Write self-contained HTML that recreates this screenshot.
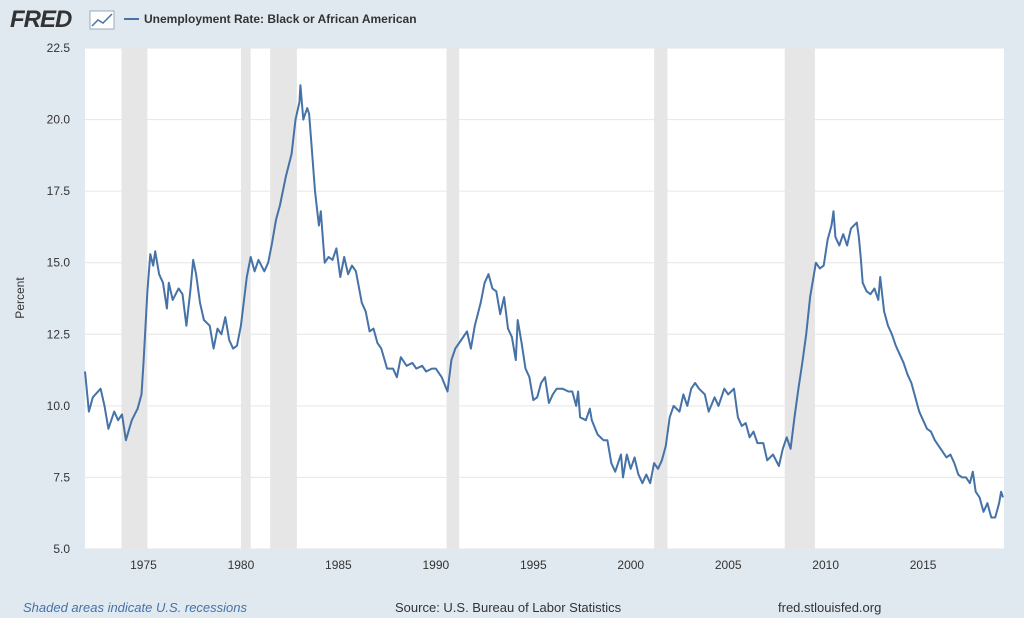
<!DOCTYPE html>
<html><head><meta charset="utf-8"><style>
body{margin:0;background:#e1e9f0;font-family:"Liberation Sans",sans-serif;}
svg{display:block}
</style></head><body>
<svg id="chart" width="1024" height="618">
<rect width="1024" height="618" fill="#e1e9f0"/>
<g>
<text x="10" y="27" font-size="24" font-weight="bold" fill="#333" font-style="italic" letter-spacing="-1">FRED</text>
<rect x="90" y="11" width="24" height="18" fill="#fff" stroke="#9ab"/>
<polyline points="92,26 98,20 103,23 112,14" fill="none" stroke="#4a76a8" stroke-width="1.5"/>
</g>
<line x1="124" y1="19" x2="139" y2="19" stroke="#4572a7" stroke-width="2"/>
<text x="144" y="23" font-size="12" font-weight="bold" fill="#333">Unemployment Rate: Black or African American</text>
<rect x="85" y="48" width="919" height="501" fill="#fff"/>
<g id="rec"></g><g id="grid"></g><g id="yt"></g><g id="xt"></g>
<path id="line" fill="none" stroke="#4572a7" stroke-width="2" stroke-linejoin="round"/>
<text x="24" y="298" font-size="12" fill="#333" transform="rotate(-90 24 298)" text-anchor="middle">Percent</text>
<text x="23" y="612" font-size="13" fill="#4572a7" font-style="italic">Shaded areas indicate U.S. recessions</text>
<text x="395" y="612" font-size="13" fill="#333">Source: U.S. Bureau of Labor Statistics</text>
<text x="778" y="612" font-size="13" fill="#333">fred.stlouisfed.org</text>
</svg>
<script>
const dates=[1972.0,1972.2,1972.4,1972.8,1973.0,1973.2,1973.5,1973.7,1973.9,1974.1,1974.4,1974.7,1974.9,1975.0,1975.2,1975.35,1975.5,1975.6,1975.8,1976.0,1976.2,1976.3,1976.5,1976.8,1977.0,1977.2,1977.4,1977.55,1977.7,1977.9,1978.1,1978.4,1978.6,1978.8,1979.0,1979.2,1979.4,1979.6,1979.8,1980.0,1980.3,1980.5,1980.7,1980.9,1981.2,1981.4,1981.6,1981.8,1982.0,1982.3,1982.6,1982.8,1983.0,1983.05,1983.2,1983.4,1983.5,1983.6,1983.8,1984.0,1984.1,1984.3,1984.5,1984.7,1984.9,1985.1,1985.3,1985.5,1985.7,1985.9,1986.2,1986.4,1986.6,1986.8,1987.0,1987.2,1987.5,1987.8,1988.0,1988.2,1988.5,1988.8,1989.0,1989.3,1989.5,1989.8,1990.0,1990.3,1990.6,1990.8,1991.0,1991.3,1991.6,1991.8,1992.0,1992.3,1992.5,1992.7,1992.9,1993.1,1993.3,1993.5,1993.7,1993.9,1994.1,1994.2,1994.4,1994.6,1994.8,1995.0,1995.2,1995.4,1995.6,1995.8,1996.0,1996.2,1996.5,1996.8,1997.0,1997.2,1997.3,1997.4,1997.7,1997.9,1998.0,1998.3,1998.6,1998.8,1999.0,1999.2,1999.5,1999.6,1999.8,2000.0,2000.2,2000.4,2000.6,2000.8,2001.0,2001.2,2001.4,2001.6,2001.8,2002.0,2002.2,2002.5,2002.7,2002.9,2003.1,2003.3,2003.5,2003.8,2004.0,2004.3,2004.5,2004.8,2005.0,2005.3,2005.5,2005.7,2005.9,2006.1,2006.3,2006.5,2006.8,2007.0,2007.3,2007.6,2007.8,2008.0,2008.2,2008.4,2008.6,2008.8,2009.0,2009.2,2009.5,2009.7,2009.9,2010.1,2010.3,2010.4,2010.5,2010.7,2010.9,2011.1,2011.3,2011.6,2011.7,2011.8,2011.9,2012.1,2012.3,2012.5,2012.7,2012.8,2013.0,2013.2,2013.4,2013.6,2013.8,2014.0,2014.2,2014.4,2014.6,2014.8,2015.0,2015.2,2015.4,2015.6,2015.8,2016.0,2016.2,2016.4,2016.6,2016.8,2017.0,2017.2,2017.4,2017.55,2017.7,2017.9,2018.1,2018.3,2018.5,2018.7,2018.9,2019.0,2019.1];
const values=[11.2,9.8,10.3,10.6,10.0,9.2,9.8,9.5,9.7,8.8,9.5,9.9,10.4,11.5,14.0,15.3,14.9,15.4,14.6,14.3,13.4,14.3,13.7,14.1,13.9,12.8,14.0,15.1,14.6,13.6,13.0,12.8,12.0,12.7,12.5,13.1,12.3,12.0,12.1,12.8,14.5,15.2,14.7,15.1,14.7,15.0,15.7,16.5,17.0,18.0,18.8,20.0,20.6,21.2,20.0,20.4,20.2,19.3,17.5,16.3,16.8,15.0,15.2,15.1,15.5,14.5,15.2,14.6,14.9,14.7,13.6,13.3,12.6,12.7,12.2,12.0,11.3,11.3,11.0,11.7,11.4,11.5,11.3,11.4,11.2,11.3,11.3,11.0,10.5,11.6,12.0,12.3,12.6,12.0,12.8,13.6,14.3,14.6,14.1,14.0,13.2,13.8,12.7,12.4,11.6,13.0,12.2,11.3,11.0,10.2,10.3,10.8,11.0,10.1,10.4,10.6,10.6,10.5,10.5,10.0,10.5,9.6,9.5,9.9,9.5,9.0,8.8,8.8,8.0,7.7,8.3,7.5,8.3,7.8,8.2,7.6,7.3,7.6,7.3,8.0,7.8,8.1,8.6,9.6,10.0,9.8,10.4,10.0,10.6,10.8,10.6,10.4,9.8,10.3,10.0,10.6,10.4,10.6,9.6,9.3,9.4,8.9,9.1,8.7,8.7,8.1,8.3,7.9,8.5,8.9,8.5,9.6,10.6,11.5,12.5,13.8,15.0,14.8,14.9,15.8,16.3,16.8,15.9,15.6,16.0,15.6,16.2,16.4,15.9,15.2,14.3,14.0,13.9,14.1,13.7,14.5,13.3,12.8,12.5,12.1,11.8,11.5,11.1,10.8,10.3,9.8,9.5,9.2,9.1,8.8,8.6,8.4,8.2,8.3,8.0,7.6,7.5,7.5,7.3,7.7,7.0,6.8,6.3,6.6,6.1,6.1,6.6,7.0,6.8];
const recStart=[1973.87,1980.0,1981.5,1990.55,2001.2,2007.9];
const recEnd=[1975.2,1980.5,1982.87,1991.2,2001.88,2009.45];
const yTicks=[5.0,7.5,10.0,12.5,15.0,17.5,20.0,22.5];
const xTicks=[1975,1980,1985,1990,1995,2000,2005,2010,2015];
const X0=85,X1=1004,Y0=549,Y1=48,D0=1972.0,D1=2019.15,V0=5,V1=22.5;
const sx=d=>X0+(d-D0)/(D1-D0)*(X1-X0);
const sy=v=>Y0-(v-V0)/(V1-V0)*(Y0-Y1);
const NS="http://www.w3.org/2000/svg";
function mk(tag,attrs,parent,txt){const e=document.createElementNS(NS,tag);for(const k in attrs)e.setAttribute(k,attrs[k]);if(txt!==undefined)e.textContent=txt;document.getElementById(parent).appendChild(e);return e;}
recStart.forEach((s,i)=>{const r=mk('rect',{x:sx(s),y:Y1,width:sx(recEnd[i])-sx(s),height:Y0-Y1,fill:'#e6e6e6'},'rec');

});
yTicks.forEach(v=>{const y=sy(v);
const g=mk('line',{x1:X0,x2:X1,y1:y,y2:y,stroke:'#e6e6e6','stroke-width':1},'grid');


const t=mk('text',{x:70,y:y+4,'font-size':12,fill:'#333','text-anchor':'end'},'yt',v.toFixed(1));

});
xTicks.forEach(d=>{const t=mk('text',{x:sx(d),y:569,'font-size':12,fill:'#333','text-anchor':'middle'},'xt',String(d));

});
document.getElementById('line').setAttribute('d',dates.map((d,i)=>(i?'L':'M')+sx(d).toFixed(1)+' '+sy(values[i]).toFixed(1)).join(''));
</script>
</body></html>
